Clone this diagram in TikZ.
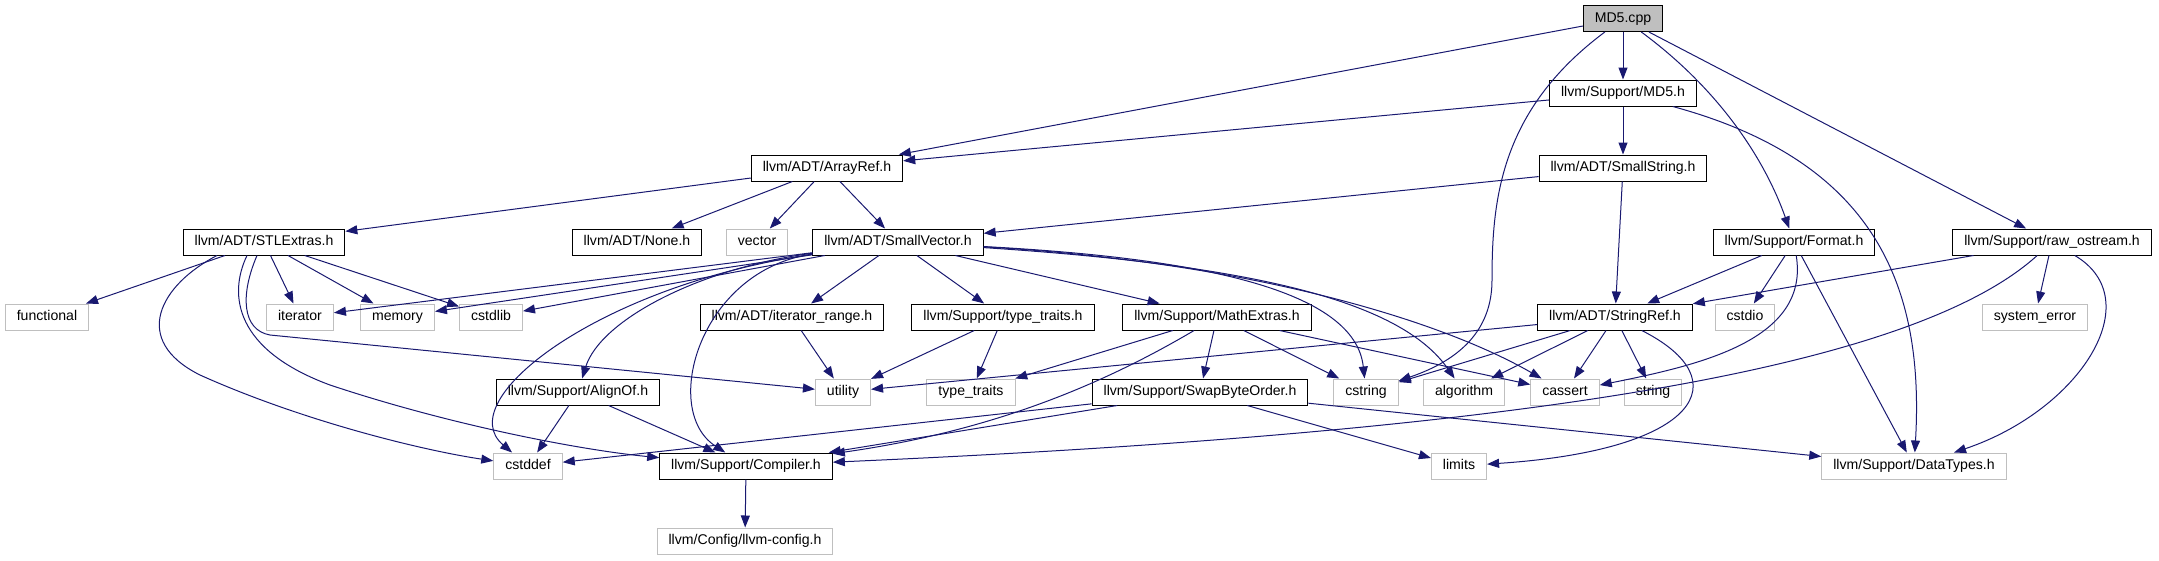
\documentclass[tikz,border=0pt]{standalone}
\usepackage{fontspec}
\setmainfont{Liberation Sans}
\usetikzlibrary{
    arrows.meta
}
\definecolor{edgeblue}{HTML}{191970}
\definecolor{sysgray}{HTML}{BFBFBF}

\begin{document}
\begin{tikzpicture}[x=1pt,y=-1pt,
    file/.style={draw=black,fill=white,line width=1pt,minimum height=26pt,
        inner xsep=11.5pt,inner ysep=0pt,text height=10.5pt,text depth=3.5pt,
        font=\fontsize{14.1}{16}\selectfont},
    sysfile/.style={file,draw=sysgray},
    rootfile/.style={file,fill=sysgray},
    dep/.style={edgeblue,line width=1pt,-{Triangle[length=12pt,width=9pt]}}]

\useasboundingbox (0,0) rectangle (2159,560);

% Row 0-2
\node[rootfile] (md5cpp) at (1623,18.5) {MD5.cpp};
\node[file] (md5h) at (1623,93) {llvm/Support/MD5.h};
\node[file] (arrayref) at (827,168) {llvm/ADT/ArrayRef.h};
\node[file] (smallstring) at (1623,168) {llvm/ADT/SmallString.h};

% Row 3
\node[file] (stlextras) at (264,242) {llvm/ADT/STLExtras.h};
\node[file] (none) at (637,242) {llvm/ADT/None.h};
\node[sysfile] (vector) at (757,242) {vector};
\node[file] (smallvector) at (898,242) {llvm/ADT/SmallVector.h};
\node[file] (format) at (1794,242) {llvm/Support/Format.h};
\node[file] (rawostream) at (2052,242) {llvm/Support/raw\_ostream.h};

% Row 4
\node[sysfile] (functional) at (47,317) {functional};
\node[sysfile] (iterator) at (300,317) {iterator};
\node[sysfile] (memory) at (397.5,317) {memory};
\node[sysfile] (cstdlib) at (491,317) {cstdlib};
\node[file] (iterrange) at (792,317) {llvm/ADT/iterator\_range.h};
\node[file] (typetraitsh) at (1003,317) {llvm/Support/type\_traits.h};
\node[file] (mathextras) at (1217,317) {llvm/Support/MathExtras.h};
\node[file] (stringref) at (1615,317) {llvm/ADT/StringRef.h};
\node[sysfile] (cstdio) at (1745,317) {cstdio};
\node[sysfile] (systemerror) at (2035,317) {system\_error};

% Row 5
\node[file] (alignof) at (578,392) {llvm/Support/AlignOf.h};
\node[sysfile] (utility) at (843,392) {utility};
\node[sysfile] (typetraits) at (971,392) {type\_traits};
\node[file] (swapbyteorder) at (1200,392) {llvm/Support/SwapByteOrder.h};
\node[sysfile] (cstring) at (1366,392) {cstring};
\node[sysfile] (algorithm) at (1464,392) {algorithm};
\node[sysfile] (cassert) at (1565,392) {cassert};
\node[sysfile] (string) at (1653,392) {string};

% Row 6-7
\node[sysfile] (cstddef) at (528,466) {cstddef};
\node[file] (compiler) at (746,466) {llvm/Support/Compiler.h};
\node[sysfile] (limits) at (1459,466) {limits};
\node[sysfile] (datatypes) at (1914,466) {llvm/Support/DataTypes.h};
\node[sysfile] (llvmconfig) at (745,541) {llvm/Config/llvm-config.h};

% MD5.cpp
\draw[dep] (md5cpp) -- (arrayref);
\draw[dep] (md5cpp) -- (md5h);
\draw[dep] (md5cpp) .. controls (1500,110) and (1492,200) .. (1492,280)
    .. controls (1492,330) and (1460,360) .. (cstring);
\draw[dep] (md5cpp) .. controls (1720,90) and (1765,160) .. (format);
\draw[dep] (md5cpp) -- (rawostream);

% MD5.h
\draw[dep] (md5h) -- (arrayref);
\draw[dep] (md5h) -- (smallstring);
\draw[dep] (md5h) .. controls (1870,160) and (1925,280) .. (datatypes);

% ArrayRef.h
\foreach \dst in {stlextras,none,vector,smallvector}{
    \draw[dep] (arrayref) -- (\dst);
}

% SmallString.h
\draw[dep] (smallstring) -- (smallvector);
\draw[dep] (smallstring) -- (stringref);

% STLExtras.h
\foreach \dst in {functional,iterator,memory,cstdlib}{
    \draw[dep] (stlextras) -- (\dst);
}
\draw[dep] ([xshift=-47pt]stlextras.south) .. controls (160,285) and (130,340) .. (200,375)
    .. controls (300,420) and (420,450) .. (cstddef);
\draw[dep] ([xshift=-17pt]stlextras.south) .. controls (228,295) and (235,350) .. (330,385)
    .. controls (450,425) and (580,450) .. (compiler);
\draw[dep] ([xshift=-7pt]stlextras.south) .. controls (240,295) and (242,330) .. (270,335)
    -- (utility);

% SmallVector.h
\foreach \dst in {iterator,memory,cstdlib,iterrange,typetraitsh,mathextras}{
    \draw[dep] (smallvector) -- (\dst);
}
\draw[dep] (smallvector) .. controls (1200,258) and (1355,290) .. (cstring);
\draw[dep] (smallvector) .. controls (1250,265) and (1400,300) .. (algorithm);
\draw[dep] (smallvector) .. controls (1250,262) and (1440,320) .. (cassert);
\draw[dep] (smallvector) .. controls (700,268) and (600,320) .. (alignof);
\draw[dep] (smallvector) .. controls (600,285) and (450,400) .. (cstddef);
\draw[dep] (smallvector) .. controls (700,270) and (660,410) .. (compiler);

% iterator_range.h, type_traits.h
\draw[dep] (iterrange) -- (utility);
\draw[dep] (typetraitsh) -- (utility);
\draw[dep] (typetraitsh) -- (typetraits);

% MathExtras.h
\foreach \dst in {typetraits,swapbyteorder,cstring,cassert}{
    \draw[dep] (mathextras) -- (\dst);
}
\draw[dep] (mathextras) .. controls (1110,380) and (1000,430) .. (compiler);

% SwapByteOrder.h
\foreach \dst in {cstddef,compiler,limits,datatypes}{
    \draw[dep] (swapbyteorder) -- (\dst);
}

% AlignOf.h, Compiler.h
\draw[dep] (alignof) -- (cstddef);
\draw[dep] (alignof) -- (compiler);
\draw[dep] (compiler) -- (llvmconfig);

% StringRef.h
\foreach \dst in {utility,cstring,algorithm,cassert,string}{
    \draw[dep] (stringref) -- (\dst);
}
\draw[dep] (stringref) .. controls (1740,380) and (1700,450) .. (limits);

% Format.h
\draw[dep] (format) -- (stringref);
\draw[dep] (format) -- (cstdio);
\draw[dep] (format) .. controls (1810,340) and (1700,365) .. (cassert);
\draw[dep] (format) -- (datatypes);

% raw_ostream.h
\draw[dep] (rawostream) -- (stringref);
\draw[dep] (rawostream) -- (systemerror);
\draw[dep] (rawostream) .. controls (2150,300) and (2080,410) .. (datatypes);
\draw[dep] (rawostream) .. controls (1900,380) and (1450,435) .. (compiler);

\end{tikzpicture}
\end{document}
